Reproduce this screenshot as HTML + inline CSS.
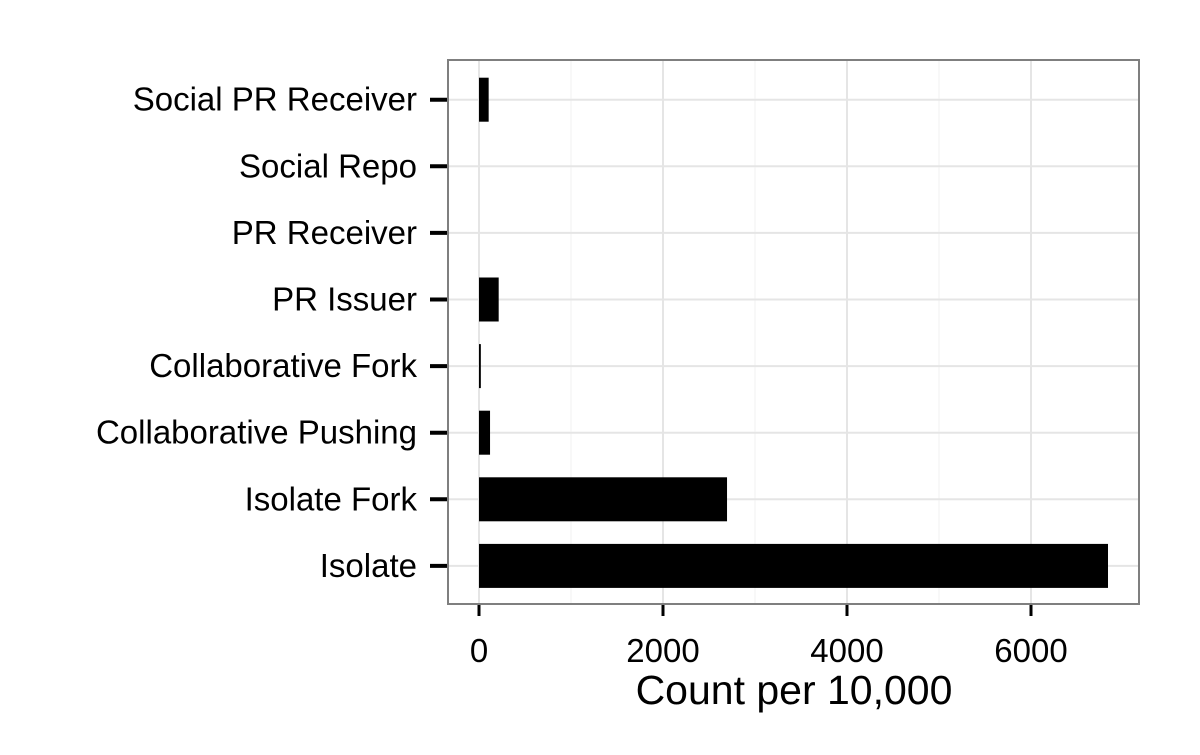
<!DOCTYPE html>
<html><head><meta charset="utf-8"><style>
body{margin:0;background:#fff;font-family:"Liberation Sans",Arial,sans-serif;}
</style></head><body>
<svg width="1200" height="750" xmlns="http://www.w3.org/2000/svg">
<g id="grid"></g>
<g id="bars"></g>
<rect x="448" y="60" width="691" height="544" fill="none" stroke="#7f7f7f" stroke-width="2"/>
<g id="yaxis"></g>
<g id="xaxis"></g>
<text x="794" y="704" font-size="41" text-anchor="middle">Count per 10,000</text>
</svg>
<script>
const categories = ["Social PR Receiver","Social Repo","PR Receiver","PR Issuer","Collaborative Fork","Collaborative Pushing","Isolate Fork","Isolate"];
const values = [105,0,0,214,20,120,2696,6837];
const xTicks = [0,2000,4000,6000];
const xMinor = [1000,3000,5000];
const NS="http://www.w3.org/2000/svg";
const x = v => 479 + v*0.092;
const y = i => 99.7 + i*66.6;
function mk(tag,attrs,parent){const e=document.createElementNS(NS,tag);for(const k in attrs)e.setAttribute(k,attrs[k]);document.getElementById(parent).appendChild(e);return e;}
xMinor.forEach(v=>{
  const l=mk('line',{x1:x(v),x2:x(v),y1:61,y2:603,stroke:'#f2f2f2','stroke-width':1},'grid');
  
  
});
xTicks.forEach(v=>{
  const l=mk('line',{x1:x(v),x2:x(v),y1:61,y2:603,stroke:'#e5e5e5','stroke-width':2},'grid');
  
  
  const t=mk('line',{x1:x(v),x2:x(v),y1:605,y2:616,stroke:'#000','stroke-width':3},'xaxis');
  
  
  const tx=mk('text',{x:x(v),y:662,'font-size':33,'text-anchor':'middle'},'xaxis');
  tx.textContent=v;
  
  
});
categories.forEach((c,i)=>{
  const g=mk('line',{x1:449,x2:1138,y1:y(i),y2:y(i),stroke:'#e5e5e5','stroke-width':2},'grid');
  
  
  const t=mk('line',{x1:430,x2:447,y1:y(i),y2:y(i),stroke:'#000','stroke-width':4},'yaxis');
  
  
  const tx=mk('text',{x:417,y:y(i)+11,'font-size':33,'text-anchor':'end'},'yaxis');
  tx.textContent=c;
  
  
  if(values[i]>0){
    const b=mk('rect',{x:x(0),y:y(i)-22,width:Math.max(1.5,x(values[i])-x(0)),height:44,fill:'#000'},'bars');
    
    
  }
});
</script>
</body></html>
